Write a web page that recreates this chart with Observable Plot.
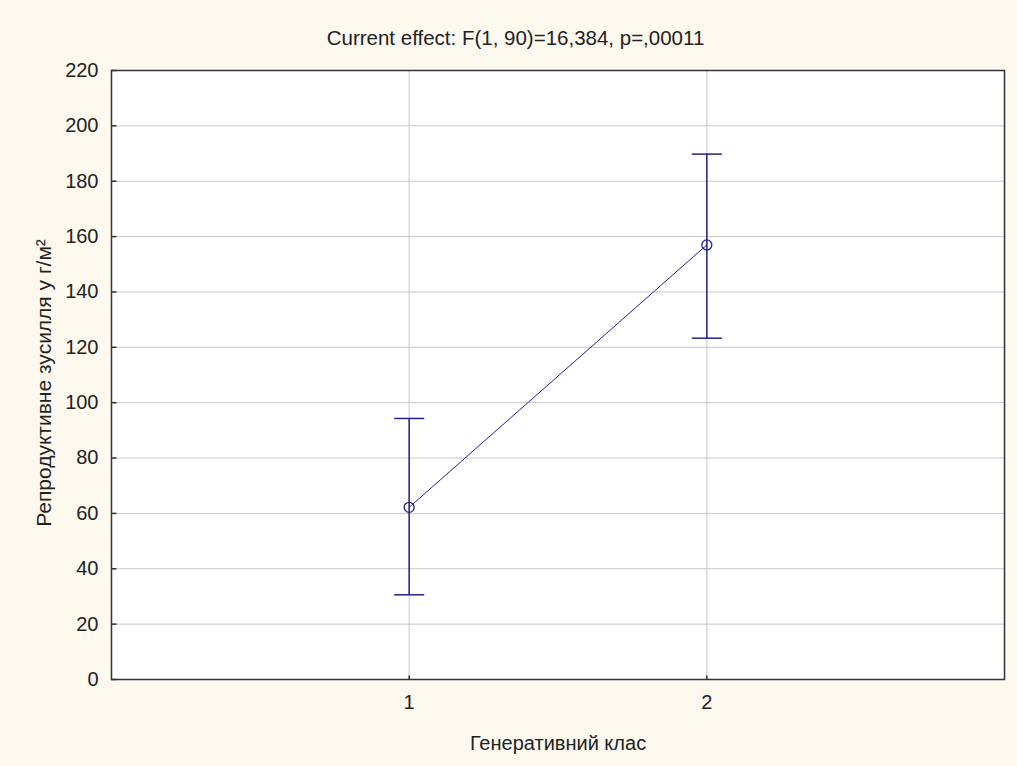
<!DOCTYPE html>
<html>
<head>
<meta charset="utf-8">
<script src="https://cdn.jsdelivr.net/npm/d3@7"></script>
<script src="https://cdn.jsdelivr.net/npm/@observablehq/plot@0.6"></script>
<style>
  html, body { margin: 0; padding: 0; background: #fdf9ef; }
  #title { height: 56px; box-sizing: border-box; padding-top: 26px; padding-left: 14px; text-align: center;
           font: 20.5px "Liberation Sans", Arial, sans-serif; line-height: 24px; color: #222; }
  #chart svg { display: block; }
</style>
</head>
<body>
<div id="title">Current effect: F(1, 90)=16,384, p=,00011</div>
<div id="chart"></div>
<script>
const classes = [1, 2];
const means = [62.2, 157.0];
const lower = [30.6, 123.3];
const upper = [94.3, 189.8];
const yTicks = [0, 20, 40, 60, 80, 100, 120, 140, 160, 180, 200, 220];
const xTicks = [1, 2];
const xLabel = "Генеративний клас";
const yLabel = "Репродуктивне зусилля у г/м²";

const data = classes.map((c, i) => ({cls: c, mean: means[i], lo: lower[i], hi: upper[i]}));
const caps = data.flatMap(d => [{cls: d.cls, v: d.lo}, {cls: d.cls, v: d.hi}]);
const navy = "#22228c";

// custom horizontal / vertical stroke symbols (cap and inward ticks)
const hCap = {draw(ctx) { ctx.moveTo(-15, 0); ctx.lineTo(15, 0); }};
const hTickIn = {draw(ctx) { ctx.moveTo(0, 0); ctx.lineTo(5, 0); }};
const vTickIn = {draw(ctx) { ctx.moveTo(0, 0); ctx.lineTo(0, -4); }};

const W = 1017, H = 710;
const mL = 111, mR = 13, mT = 14, mB = 87;

const chart = Plot.plot({
  width: W, height: H,
  marginLeft: mL, marginRight: mR, marginTop: mT, marginBottom: mB,
  style: {background: "transparent", fontFamily: "'Liberation Sans', Arial, sans-serif", fontSize: "20px", color: "#222"},
  x: {domain: [0, 3]},
  y: {domain: [0, 220]},
  marks: [
    Plot.frame({fill: "white"}),
    Plot.gridY(yTicks, {stroke: "#c8c8c8", strokeOpacity: 1}),
    Plot.gridX(xTicks, {stroke: "#c8c8c8", strokeOpacity: 1}),
    Plot.axisY(yTicks, {tickSize: 0, tickPadding: 13, fontSize: 20, label: null}),
    Plot.axisX(xTicks, {tickSize: 0, tickPadding: 15, fontSize: 20, tickFormat: d => String(d), label: null}),
    Plot.text([yLabel], {frameAnchor: "left", textAnchor: "middle", dx: -67, dy: 8, rotate: -90, fontSize: 21, fill: "#222", letterSpacing: "0.9px"}),
    Plot.text([xLabel], {frameAnchor: "bottom", dy: 70, fontSize: 20, fill: "#222", letterSpacing: "0.9px"}),
    Plot.dot(yTicks, {y: d => d, frameAnchor: "left", symbol: hTickIn, stroke: "#333", strokeWidth: 1.5, r: 5}),
    Plot.dot(xTicks, {x: d => d, frameAnchor: "bottom", symbol: vTickIn, stroke: "#333", strokeWidth: 1.5, r: 5}),
    Plot.line(data, {x: "cls", y: "mean", stroke: navy, strokeWidth: 1}),
    Plot.ruleX(data, {x: "cls", y1: "lo", y2: "hi", stroke: navy, strokeWidth: 1.5}),
    Plot.dot(caps, {x: "cls", y: "v", symbol: hCap, stroke: navy, strokeWidth: 1.5, r: 15}),
    Plot.dot(data, {x: "cls", y: "mean", r: 5, stroke: navy, fill: "none", strokeWidth: 1.3}),
    Plot.frame({stroke: "#333", strokeWidth: 1.5})
  ]
});
document.getElementById("chart").append(chart);
</script>
</body>
</html>
